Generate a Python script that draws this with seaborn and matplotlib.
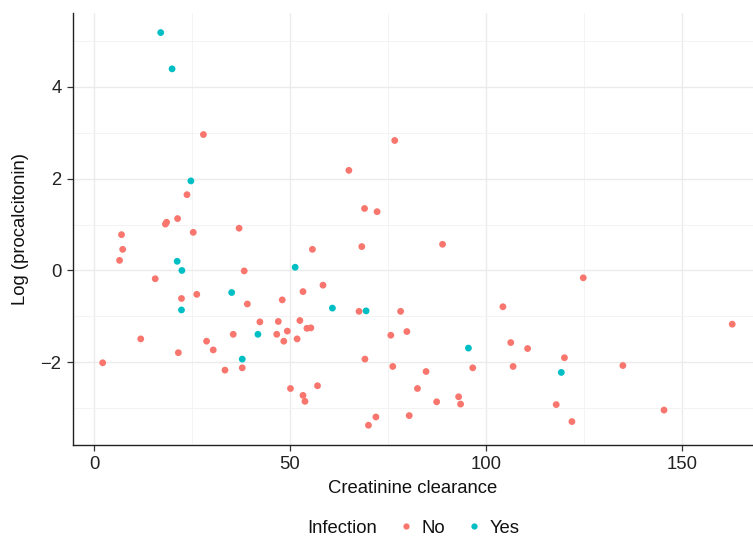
import matplotlib
matplotlib.use("Agg")
import matplotlib.pyplot as plt
from matplotlib.ticker import MultipleLocator
from matplotlib.lines import Line2D
import seaborn as sns
import pandas as pd

# Infection = Yes
yes_x = [17.0, 19.9, 24.7, 21.2, 22.4, 35.1, 22.3, 41.8, 37.8, 51.3, 60.8, 69.4, 95.5, 119.2]
yes_y = [5.18, 4.39, 1.95, 0.20, 0.00, -0.48, -0.86, -1.39, -1.93, 0.07, -0.82, -0.88, -1.69, -2.22]

# Infection = No
no_x = [27.9, 23.7, 18.5, 18.2, 21.3, 37.0, 25.3, 7.0, 7.3, 6.5,
        38.3, 15.6, 22.3, 26.2, 48.0, 39.1, 42.3, 47.0, 52.5, 49.3,
        11.9, 35.5, 46.6, 48.4, 51.8, 28.7, 30.4, 21.5, 2.2, 33.4,
        37.8, 50.1, 76.7, 65.0, 69.0, 72.2, 55.7, 68.3, 88.9, 58.4,
        53.3, 67.6, 78.2, 104.3, 54.3, 55.3, 75.7, 79.8, 106.3, 69.1,
        76.2, 84.7, 96.6, 57.0, 53.3, 53.8, 82.5, 87.4, 93.0, 93.5,
        71.9, 70.0, 80.4, 124.8, 162.8, 110.6, 120.0, 106.9, 134.9, 117.9,
        121.9, 145.4]
no_y = [2.96, 1.65, 1.05, 1.01, 1.13, 0.92, 0.83, 0.78, 0.46, 0.22,
        -0.01, -0.18, -0.61, -0.52, -0.64, -0.73, -1.12, -1.11, -1.09, -1.32,
        -1.49, -1.39, -1.39, -1.54, -1.49, -1.54, -1.73, -1.79, -2.01, -2.17,
        -2.12, -2.57, 2.83, 2.18, 1.35, 1.28, 0.46, 0.52, 0.57, -0.32,
        -0.46, -0.89, -0.89, -0.79, -1.26, -1.25, -1.41, -1.33, -1.57, -1.93,
        -2.09, -2.20, -2.12, -2.51, -2.72, -2.85, -2.57, -2.86, -2.75, -2.91,
        -3.19, -3.37, -3.16, -0.16, -1.17, -1.70, -1.90, -2.09, -2.07, -2.92,
        -3.29, -3.04]

categories = ["No", "Yes"]
colors = {"No": "#F8766D", "Yes": "#00BFC4"}

df = pd.DataFrame({
    "Creatinine clearance": no_x + yes_x,
    "Log (procalcitonin)": no_y + yes_y,
    "Infection": ["No"] * len(no_x) + ["Yes"] * len(yes_x),
})

sns.set_theme(style="white")
plt.rcParams["font.family"] = ["Liberation Sans", "DejaVu Sans"]

FS = 13.3

fig = plt.figure(figsize=(7.53, 5.38), dpi=100)
ax = fig.add_axes([0.0963, 0.1729, 0.9037, 0.8024])

sns.scatterplot(data=df, x="Creatinine clearance", y="Log (procalcitonin)",
                hue="Infection", hue_order=categories, palette=colors,
                s=24, linewidth=0, ax=ax, legend=False, zorder=3)

ax.set_xlim(-5.5, 168.1)
ax.set_ylim(-3.80, 5.60)
ax.xaxis.set_major_locator(MultipleLocator(50))
ax.xaxis.set_minor_locator(MultipleLocator(25))
ax.yaxis.set_major_locator(MultipleLocator(2))
ax.yaxis.set_minor_locator(MultipleLocator(1))
ax.grid(which="major", color="#EBEBEB", linewidth=1.0, zorder=0)
ax.grid(which="minor", color="#F3F3F3", linewidth=0.7, zorder=0)
ax.set_axisbelow(True)

for side in ["top", "right"]:
    ax.spines[side].set_visible(False)
for side in ["left", "bottom"]:
    ax.spines[side].set_color("#222222")
    ax.spines[side].set_linewidth(1.0)

ax.tick_params(axis="both", which="major", direction="out", length=4, width=0.9,
               color="#333333", labelsize=FS, labelcolor="#222222", pad=4,
               left=True, bottom=True)
ax.tick_params(axis="both", which="minor", length=0)

ax.set_xlabel("Creatinine clearance", fontsize=FS, color="#111111", labelpad=5)
ax.set_ylabel("Log (procalcitonin)", fontsize=FS, color="#111111", labelpad=8)

handles = [Line2D([], [], linestyle="none", marker="")]
labels = ["Infection"]
for c in categories:
    handles.append(Line2D([], [], linestyle="none", marker="o", markersize=4.5,
                          markerfacecolor=colors[c], markeredgewidth=0))
    labels.append(c)
leg = fig.legend(handles, labels, loc="center", bbox_to_anchor=(0.534, 0.018),
                 ncol=3, frameon=False, fontsize=FS, handlelength=0.8,
                 handletextpad=0.4, columnspacing=1.2)
for t in leg.get_texts():
    t.set_color("#111111")

fig.savefig("out.png", dpi=100)
